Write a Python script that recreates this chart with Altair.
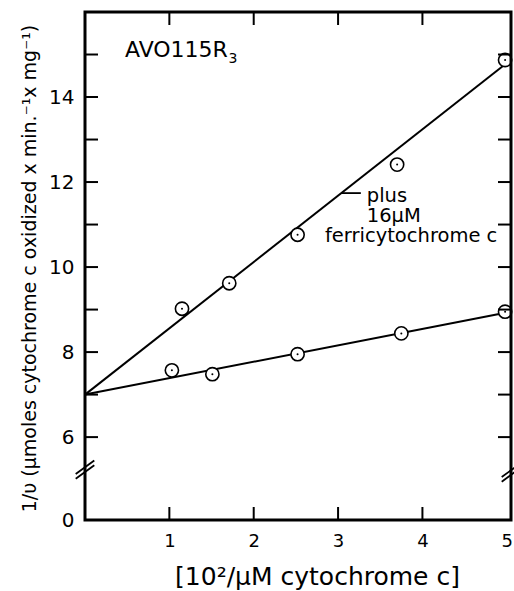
import altair as alt
import pandas as pd

# ---- data ----
# series with 16 uM ferricytochrome c added
plus_x = [1.15, 1.71, 2.52, 3.70, 4.98]
plus_y = [9.02, 9.62, 10.76, 12.41, 14.87]
# series without addition
ctrl_x = [1.03, 1.51, 2.52, 3.75, 4.98]
ctrl_y = [7.57, 7.48, 7.95, 8.44, 8.95]
# drawn regression lines (end points)
line_x = [0.0, 5.0]
line_plus_y = [7.0, 14.8]
line_ctrl_y = [7.0, 8.93]

x_label_values = [1, 2, 3, 4, 5]
x_tick_values = [1, 2, 3, 4]
y_tick_values = [6, 7, 8, 9, 10, 11, 12, 13, 14, 15]
y_label_values = [4.05, 6, 8, 10, 12, 14]  # bottom (broken axis) is labelled 0

X_DOMAIN = [0, 5.05]
Y_DOMAIN = [4.05, 16.0]
W, H = 426, 508
FONT = "DejaVu Sans"

pts = pd.DataFrame({
    "x": plus_x + ctrl_x,
    "y": plus_y + ctrl_y,
    "series": ["plus"] * len(plus_x) + ["ctrl"] * len(ctrl_x),
})
lines = pd.DataFrame({
    "x": line_x + line_x,
    "y": line_plus_y + line_ctrl_y,
    "series": ["plus", "plus", "ctrl", "ctrl"],
})

xs = alt.Scale(domain=X_DOMAIN, nice=False, zero=False)
ys = alt.Scale(domain=Y_DOMAIN, nice=False, zero=False)

x_axis = alt.Axis(
    values=x_label_values, format="d", ticks=False, domain=False, grid=False,
    labelFontSize=18, labelPadding=12, labelFont=FONT, labelColor="black",
    title="[10²/μM cytochrome c]", titleFont=FONT, titleFontSize=25,
    titleFontWeight="normal", titleColor="black",
    titleX=232, titleY=64, titleBaseline="alphabetic", titleAlign="center",
)
y_axis = alt.Axis(
    values=y_label_values, ticks=False, domain=False, grid=False,
    labelExpr="datum.value < 5 ? '0' : datum.label",
    labelFontSize=20, labelPadding=11, labelFont=FONT, labelColor="black",
    title="1/υ (μmoles cytochrome c  oxidized x min.⁻¹x mg⁻¹)",
    titleFont=FONT, titleFontSize=19, titleFontWeight="normal", titleColor="black",
    titleAngle=270, titleX=-50, titleY=256, titleBaseline="alphabetic", titleAlign="center",
)

base = alt.Chart(lines)

line_layer = base.mark_line(color="black", strokeWidth=2).encode(
    x=alt.X("x:Q", scale=xs, axis=x_axis),
    y=alt.Y("y:Q", scale=ys, axis=y_axis),
    detail="series:N",
)

circle_layer = alt.Chart(pts).mark_point(
    shape="circle", size=175, filled=False, fill="white", fillOpacity=1,
    stroke="black", strokeWidth=1.6, opacity=1,
).encode(x=alt.X("x:Q", scale=xs), y=alt.Y("y:Q", scale=ys))

dot_layer = alt.Chart(pts).mark_circle(size=4, color="black", opacity=1).encode(
    x=alt.X("x:Q", scale=xs), y=alt.Y("y:Q", scale=ys)
)

# inward ticks
yt = pd.DataFrame({"v": y_tick_values})
xt = pd.DataFrame({"v": x_tick_values})
tick_len = 13
left_ticks = alt.Chart(yt).mark_rule(color="black", strokeWidth=2).encode(
    y=alt.Y("v:Q", scale=ys), x=alt.value(0), x2=alt.value(tick_len))
right_ticks = alt.Chart(yt).mark_rule(color="black", strokeWidth=2).encode(
    y=alt.Y("v:Q", scale=ys), x=alt.value(W - tick_len), x2=alt.value(W))
top_ticks = alt.Chart(xt).mark_rule(color="black", strokeWidth=2).encode(
    x=alt.X("v:Q", scale=xs), y=alt.value(0), y2=alt.value(tick_len))
bottom_ticks = alt.Chart(xt).mark_rule(color="black", strokeWidth=2).encode(
    x=alt.X("v:Q", scale=xs), y=alt.value(H - tick_len), y2=alt.value(H))

# frame drawn on top
frame = alt.Chart(pd.DataFrame({"a": [0]})).mark_rect(
    fill="white", fillOpacity=0, stroke="black", strokeWidth=3
).encode(x=alt.value(0), x2=alt.value(W), y=alt.value(0), y2=alt.value(H))

# axis break marks (two short parallel strokes on each side)
brk = pd.DataFrame({
    "x1": [-0.11, -0.11, 5.05 - 0.11, 5.05 - 0.11],
    "x2": [0.11, 0.11, 5.05 + 0.11, 5.05 + 0.11],
    "y1": [5.02, 5.13, 4.95, 5.06],
    "y2": [5.34, 5.45, 5.27, 5.38],
})
break_layer = alt.Chart(brk).mark_rule(color="black", strokeWidth=1.8).encode(
    x=alt.X("x1:Q", scale=xs), x2="x2:Q",
    y=alt.Y("y1:Q", scale=ys), y2="y2:Q",
)

# annotation leader
lead = pd.DataFrame({"x1": [3.04], "x2": [3.27], "y": [11.74]})
leader = alt.Chart(lead).mark_rule(color="black", strokeWidth=1.8).encode(
    x=alt.X("x1:Q", scale=xs), x2="x2:Q", y=alt.Y("y:Q", scale=ys))

texts = pd.DataFrame({
    "x": [0.474, 1.70, 3.34, 3.34, 2.845],
    "y": [14.94, 14.80, 11.54, 11.05, 10.59],
    "t": ["AVO115R", "3", "plus", "16μM", "ferricytochrome c"],
    "s": [22, 14, 19.5, 19.5, 19.5],
    "w": ["normal", "bold", "normal", "normal", "normal"],
})
text_layer = alt.Chart(texts).mark_text(
    align="left", baseline="alphabetic", font=FONT, color="black"
).encode(
    x=alt.X("x:Q", scale=xs), y=alt.Y("y:Q", scale=ys), text="t:N",
    size=alt.Size("s:Q", scale=None, legend=None),
)

chart = alt.layer(
    line_layer, leader, circle_layer, dot_layer,
    left_ticks, right_ticks, top_ticks, bottom_ticks,
    frame, break_layer, text_layer,
).properties(
    width=W, height=H,
    autosize=alt.AutoSizeParams(type="none"),
    padding={"left": 85, "top": 12, "right": 3, "bottom": 71},
).configure_view(stroke=None).configure(background="white")

chart.save("out.html", embed_options={"renderer": "svg", "actions": False})
